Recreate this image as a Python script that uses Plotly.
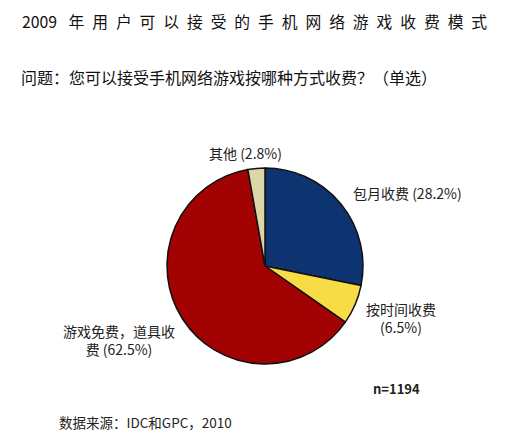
import plotly.graph_objects as go

# chart data
categories = ['包月收费', '按时间收费', '游戏免费，道具收费', '其他']
shares = [28.2, 6.5, 62.5, 2.8]
sample_size = 1194

title_text = '2009 年用户可以接受的手机网络游戏收费模式'
question_text = '问题：您可以接受手机网络游戏按哪种方式收费？（单选）'
source_text = '数据来源：IDC和GPC，2010'

slice_colors = ['#0d3370', '#f7dc46', '#a30202', '#ddd5a8']

#page body has an 8px margin, so the figure is a bit smaller and shifted
OFF = 8
W, H = 505 - OFF, 436 - OFF
FONT = 'Noto Sans CJK SC, Noto Sans, sans-serif'


def px(x, y):
    # reference pixel position -> paper coordinates
    return (x - OFF) / W, 1 - (y - OFF) / H


#spread title characters out like the original
def spaced(s):
    head, rest = s.split(' ', 1)
    return head + '\u2002 ' + '\u2002'.join(rest)


fig = go.Figure()

cx, cy, r = 265, 266, 98
x0, y1 = px(cx - r, cy + r)
x1, y0 = px(cx + r, cy - r)
fig.add_trace(go.Pie(
    labels=categories,
    values=shares,
    sort=False,
    direction='clockwise',
    rotation=0,
    textinfo='none',
    hoverinfo='label+percent',
    marker=dict(colors=slice_colors, line=dict(color='#111111', width=1.5)),
    domain=dict(x=[x0, x1], y=[y1, y0]),
    showlegend=False,
))


def label(i, wrap=None):
    name = categories[i]
    if wrap:
        name = name[:wrap] + '<br>' + name[wrap:]
    return '{} ({}%)'.format(name, shares[i])


annotations = []


def add_text(text, x, y, size=14, anchor='center', color='#222222', bold=False, align='center'):
    ax, ay = px(x, y)
    if bold:
        text = '<b>' + text + '</b>'
    annotations.append(dict(
        text=text, x=ax, y=ay, xref='paper', yref='paper',
        xanchor=anchor, yanchor='middle', showarrow=False, align=align,
        font=dict(family=FONT, size=size, color=color),
    ))


add_text(spaced(title_text), 20, 22, size=15.8, anchor='left', color='#111111')
add_text(question_text, 19, 77, size=16, anchor='left', color='#111111')

#slice labels
add_text(label(0), 351, 193, anchor='left')
add_text(categories[1] + '<br>({}%)'.format(shares[1]), 401, 318)
add_text(label(2, wrap=8), 119, 340)
add_text(label(3), 245, 153)

add_text('n={}'.format(sample_size), 396, 388, size=13, bold=True)
add_text(source_text, 57, 422, size=13.5, anchor='left', color='#222222')

fig.update_layout(
    width=W,
    height=H,
    margin=dict(l=0, r=0, t=0, b=0),
    paper_bgcolor='white',
    plot_bgcolor='white',
    annotations=annotations,
)

fig.write_html('out.html')
